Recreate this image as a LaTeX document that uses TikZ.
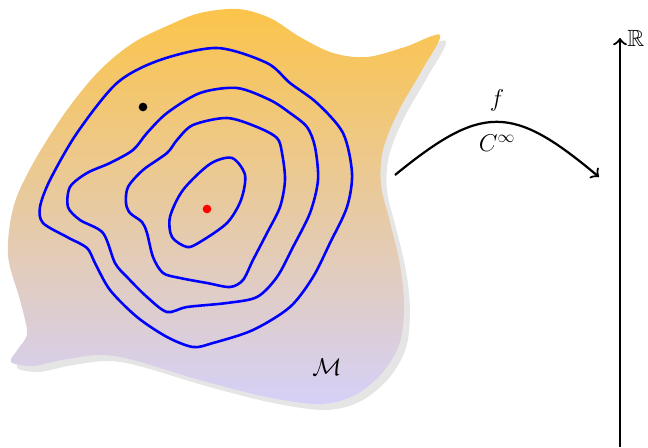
\documentclass[tikz,border=0pt]{standalone}
\usepackage{amsmath}
\usepackage{amssymb}
\usepackage{tikz}
\usetikzlibrary{positioning, arrows.meta}
\definecolor{mfdtop}{RGB}{251,196,74}
\definecolor{mfdbot}{RGB}{213,208,248}

% outline of the manifold (pixel-like units)
\newcommand{\mfdoutline}{plot[smooth cycle, tension=0.55] coordinates {
  (238,9) (270,18) (300,37) (333,53) (367,57) (405,47) (440,35)
  (422,70) (398,112) (383,150) (381,185) (390,222) (400,265)
  (404,305) (400,342) (383,372) (355,395) (320,404) (267,397) (200,380)
  (133,360) (100,355) (62,360) (33,366) (11,362) (18,349) (27,333)
  (20,300) (8,255) (14,205) (35,160) (67,110) (100,70) (133,43)
  (167,26) (200,13)}}

\begin{document}
\begin{tikzpicture}[
    x=0.03cm, y=-0.03cm,
    level/.style={draw=blue, line width=2.2pt},
    mapline/.style={-{Classical TikZ Rightarrow[scale=1.3]}, line width=1.9pt},
    lbl/.style={font=\fontsize{20}{24}\selectfont, inner sep=1pt},
    dot/.style={circle, inner sep=0pt, minimum size=0.26cm}
]
  \useasboundingbox (0,0) rectangle (648,447);

  % manifold with its shadow
  \fill[gray!20, shift={(6,6)}] \mfdoutline;
  \shade[top color=mfdtop, bottom color=mfdbot] \mfdoutline;

  % level sets
  \draw[level] plot[smooth cycle] coordinates {
    (217,48) (267,63) (290,83) (317,103) (343,133) (352,173) (347,207)
    (330,243) (313,277) (290,307) (253,330) (213,343) (193,347) (167,337)
    (137,317) (110,290) (95,263) (87,248) (67,237) (43,223) (40,207)
    (50,180) (77,133) (117,83) (160,60)};
  \draw[level] plot[smooth cycle] coordinates {
    (237,88) (270,100) (290,113) (307,127) (315,147) (318,180) (310,213)
    (293,247) (277,277) (257,297) (227,303) (187,307) (167,312) (147,297)
    (127,277) (115,263) (103,233) (80,220) (68,207) (70,187) (87,173)
    (110,163) (133,150) (147,133) (167,113) (200,93)};
  \draw[level] plot[smooth cycle] coordinates {
    (227,118) (257,127) (277,138) (282,153) (285,180) (280,207) (267,233)
    (253,260) (243,280) (230,287) (207,283) (180,278) (163,273) (153,257)
    (147,233) (142,222) (130,213) (126,203) (128,187) (143,170) (167,153)
    (177,140) (193,125)};
  \draw[level] plot[smooth cycle] coordinates {
    (232,158) (245,175) (241,200) (227,223) (200,242) (187,247) (172,237)
    (170,217) (183,190) (210,164)};

  \node[dot, fill=black] (crit) at (143,107) {};
  \node[dot, fill=red] (maxpt) at (207,209) {};
  \node[lbl] (mlabel) at (327,367) {$\mathcal{M}$};

  % the map f
  \coordinate (fsrc) at (395,175);
  \coordinate (fdst) at (599,177);
  \draw[mapline] (fsrc) .. controls (482,104) and (512,104) .. (fdst);
  \node[lbl] (flabel) at (497,100) {$f$};
  \node[lbl] (cinf) at (497,143) {$C^\infty$};

  % the real line
  \coordinate (rbot) at (620,447);
  \coordinate (rtop) at (620,38);
  \draw[mapline] (rbot) -- (rtop);
  \node[lbl, anchor=west] (rlabel) at (626,38) {$\mathbb{R}$};
\end{tikzpicture}
\end{document}
